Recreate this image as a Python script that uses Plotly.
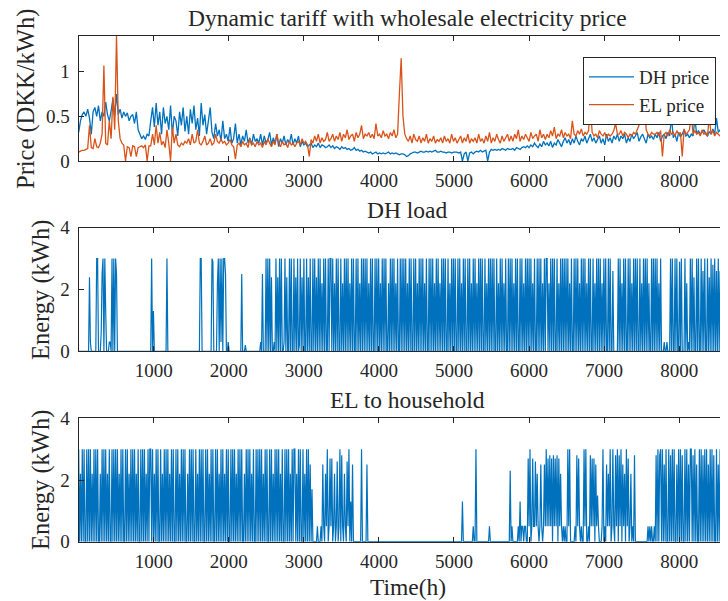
import plotly.graph_objects as go

# prices: one value per 24 h; loads: one value per 12 h
PRICE_STEP_H = 24
LOAD_STEP_H = 12

DH_PRICE = [
    0.32, 0.45, 0.52, 0.55, 0.5, 0.58, 0.48, 0.3, 0.55, 0.6, 0.5, 0.62, 0.45, 0.55, 0.5, 0.66, 0.52, 0.45, 0.56, 0.7,
    0.5, 0.75, 0.52, 0.58, 0.48, 0.55, 0.5, 0.54, 0.45, 0.5, 0.52, 0.42, 0.55, 0.35, 0.3, 0.25, 0.28, 0.24, 0.3, 0.28,
    0.45, 0.6, 0.38, 0.65, 0.4, 0.55, 0.3, 0.6, 0.42, 0.5, 0.35, 0.62, 0.3, 0.5, 0.45, 0.28, 0.55, 0.4, 0.6, 0.33,
    0.5, 0.3, 0.58, 0.42, 0.62, 0.35, 0.48, 0.28, 0.65, 0.4, 0.52, 0.3, 0.45, 0.6, 0.32, 0.25, 0.42, 0.28, 0.35, 0.22,
    0.45, 0.25, 0.3, 0.22, 0.38, 0.2, 0.25, 0.42, 0.2, 0.3, 0.18, 0.28, 0.22, 0.35, 0.2, 0.26, 0.18, 0.3, 0.22, 0.25,
    0.2, 0.3, 0.18, 0.28, 0.2, 0.24, 0.32, 0.18, 0.26, 0.2, 0.3, 0.16, 0.25, 0.2, 0.28, 0.18, 0.24, 0.2, 0.3, 0.18,
    0.25, 0.2, 0.28, 0.16, 0.22, 0.18, 0.2, 0.16, 0.18, 0.2, 0.15, 0.18, 0.16, 0.2, 0.15, 0.18, 0.17, 0.15, 0.16, 0.18,
    0.15, 0.17, 0.14, 0.16, 0.15, 0.13, 0.16, 0.14, 0.15, 0.13, 0.14, 0.12, 0.13, 0.15, 0.12, 0.13, 0.11, 0.12, 0.1, 0.11,
    0.1, 0.09, 0.1, 0.08, 0.09, 0.1, 0.08, 0.09, 0.08, 0.09, 0.08, 0.09, 0.1, 0.08, 0.09, 0.08, 0.09, 0.08, 0.07, 0.08,
    0.08, 0.07, 0.05, 0.06, 0.08, 0.09, 0.1, 0.1, 0.09, 0.1, 0.11, 0.1, 0.1, 0.11, 0.1, 0.11, 0.1, 0.11, 0.12, 0.1,
    0.1, 0.11, 0.1, 0.1, 0.09, 0.1, 0.1, 0.09, 0.1, 0.1, 0.1, 0.09, 0.1, 0.0, 0.08, 0.1, 0.0, 0.09, 0.1, 0.08,
    0.1, 0.11, 0.1, 0.12, 0.1, 0.11, 0.12, 0.0, 0.1, 0.13, 0.12, 0.13, 0.12, 0.13, 0.12, 0.14, 0.13, 0.12, 0.14, 0.13,
    0.13, 0.14, 0.12, 0.15, 0.14, 0.13, 0.15, 0.16, 0.15, 0.17, 0.15, 0.18, 0.16, 0.2, 0.17, 0.15, 0.19, 0.16, 0.22, 0.18,
    0.2, 0.17, 0.22, 0.15, 0.2, 0.18, 0.24, 0.2, 0.16, 0.22, 0.26, 0.2, 0.24, 0.18, 0.25, 0.2, 0.28, 0.22, 0.18, 0.25,
    0.22, 0.28, 0.2, 0.25, 0.3, 0.22, 0.26, 0.2, 0.24, 0.28, 0.2, 0.25, 0.18, 0.3, 0.22, 0.26, 0.2, 0.28, 0.24, 0.3,
    0.22, 0.28, 0.25, 0.3, 0.2, 0.26, 0.22, 0.3, 0.25, 0.28, 0.32, 0.22, 0.27, 0.3, 0.25, 0.2, 0.3, 0.26, 0.28, 0.24,
    0.3, 0.26, 0.32, 0.22, 0.28, 0.3, 0.25, 0.32, 0.28, 0.5, 0.26, 0.3, 0.22, 0.32, 0.27, 0.3, 0.35, 0.28, 0.3, 0.26,
    0.3, 0.28, 0.48, 0.3, 0.34, 0.3, 0.32, 0.35, 0.3, 0.28, 0.33, 0.3, 0.36, 0.3, 0.48, 0.32, 0.35, 0.38, 0.33, 0.4,
    0.36, 0.4, 0.35, 0.38, 0.34,
]

EL_PRICE = [
    0.1, 0.11, 0.12, 0.12, 0.13, 0.14, 0.4, 0.15, 0.14, 0.25, 0.16, 0.15, 0.2, 0.3, 1.07, 0.2, 0.18, 0.45, 0.25, 0.72,
    0.35, 1.4, 0.45, 0.25, 0.2, 0.18, 0.0, 0.16, 0.15, 0.05, 0.17, 0.16, 0.05, 0.15, 0.16, 0.17, 0.15, 0.18, 0.0, 0.17,
    0.17, 0.3, 0.18, 0.4, 0.2, 0.32, 0.18, 0.22, 0.15, 0.35, 0.2, 0.0, 0.38, 0.2, 0.3, 0.18, 0.16, 0.2, 0.18, 0.22,
    0.2, 0.25, 0.18, 0.3, 0.2, 0.22, 0.35, 0.2, 0.18, 0.22, 0.28, 0.18, 0.2, 0.25, 0.18, 0.2, 0.3, 0.22, 0.2, 0.25,
    0.2, 0.22, 0.18, 0.2, 0.24, 0.18, 0.16, 0.02, 0.18, 0.2, 0.16, 0.22, 0.18, 0.2, 0.15, 0.25, 0.18, 0.2, 0.16, 0.22,
    0.18, 0.2, 0.15, 0.22, 0.18, 0.25, 0.2, 0.16, 0.22, 0.18, 0.3, 0.2, 0.16, 0.22, 0.18, 0.2, 0.15, 0.22, 0.18, 0.2,
    0.16, 0.2, 0.22, 0.18, 0.25, 0.2, 0.22, 0.18, 0.05, 0.24, 0.2, 0.28, 0.22, 0.3, 0.2, 0.26, 0.22, 0.24, 0.32, 0.22,
    0.25, 0.3, 0.22, 0.28, 0.24, 0.32, 0.22, 0.3, 0.26, 0.35, 0.24, 0.28, 0.3, 0.22, 0.32, 0.26, 0.3, 0.4, 0.25, 0.3,
    0.28, 0.32, 0.26, 0.3, 0.25, 0.42, 0.28, 0.3, 0.26, 0.34, 0.28, 0.3, 0.25, 0.32, 0.28, 0.35, 0.26, 0.3, 0.75, 1.15,
    0.5, 0.3, 0.25, 0.22, 0.28, 0.2, 0.3, 0.24, 0.22, 0.28, 0.2, 0.26, 0.22, 0.3, 0.2, 0.25, 0.22, 0.28, 0.2, 0.24,
    0.22, 0.26, 0.2, 0.28, 0.22, 0.25, 0.2, 0.3, 0.22, 0.26, 0.2, 0.24, 0.28, 0.2, 0.26, 0.22, 0.3, 0.2, 0.25, 0.22,
    0.26, 0.2, 0.3, 0.22, 0.25, 0.2, 0.28, 0.22, 0.32, 0.2, 0.26, 0.22, 0.3, 0.24, 0.2, 0.28, 0.22, 0.26, 0.3, 0.22,
    0.28, 0.22, 0.3, 0.25, 0.35, 0.22, 0.28, 0.24, 0.3, 0.26, 0.22, 0.32, 0.25, 0.28, 0.3, 0.22, 0.35, 0.26, 0.3, 0.24,
    0.3, 0.26, 0.34, 0.28, 0.38, 0.25, 0.3, 0.28, 0.35, 0.26, 0.32, 0.28, 0.3, 0.25, 0.45, 0.3, 0.28, 0.34, 0.3, 0.36,
    0.28, 0.32, 0.3, 0.34, 0.61, 0.32, 0.28, 0.3, 0.26, 0.34, 0.3, 0.28, 0.32, 0.26, 0.3, 0.28, 0.3, 0.34, 0.42, 0.3,
    0.3, 0.34, 0.28, 0.32, 0.3, 0.26, 0.3, 0.28, 0.32, 0.3, 0.35, 0.4, 0.75, 0.5, 0.65, 0.35, 0.3, 0.28, 0.32, 0.3,
    0.3, 0.32, 0.28, 0.34, 0.05, 0.3, 0.32, 0.28, 0.35, 0.3, 0.32, 0.28, 0.34, 0.3, 0.32, 0.05, 0.36, 0.3, 0.32, 0.35,
    0.52, 0.3, 0.34, 0.3, 0.32, 0.28, 0.35, 0.3, 0.32, 0.28, 0.5, 0.3, 0.34, 0.28, 0.32, 0.3, 0.28, 0.25, 0.2, 0.1,
    0.0, 0.05, 0.1, 0.08, 0.12,
]

# one row = 480 h (40 half-day samples)
DH_LOAD = [
    0, 0, 0, 0, 0, 0, 0, 0, 0, 0, 0, 0, 2.4, 0.3, 0, 0, 0, 0, 0, 0,
    3, 3, 0, 0, 0, 0.6, 2.5, 3, 0, 3, 1.3, 0, 0, 0, 0.3, 0.3, 0, 3, 0, 3,
    0, 3, 2.5, 0, 0, 0, 0, 0, 0, 0, 0, 0, 0, 0, 0, 0, 0, 0, 0, 0,
    0, 0, 0, 0, 0, 0, 0, 0, 0, 0, 0, 0, 0, 0, 0, 0, 0, 0, 0, 0,
    0, 3, 0, 1.3, 0, 0, 0, 0, 0, 0, 0, 0, 0, 0, 0, 0, 0, 0, 3, 0,
    0, 0, 0, 0, 0, 0, 0, 0, 0, 0, 0, 0, 0, 0, 0, 0, 0, 0, 0, 0,
    0, 0, 0, 0, 0, 0, 0, 0, 0, 0, 0, 0, 0, 0, 0, 3, 3, 0, 0, 0,
    0, 0, 0, 0, 0, 0, 0, 0, 3, 2.9, 0, 0, 0, 0, 2.2, 3, 0, 3, 0.3, 3,
    0, 3, 3, 2.5, 0, 0, 0.3, 0, 0, 0, 0, 0, 0, 0, 0, 0, 0, 0, 0, 0,
    0, 2.5, 0, 0, 0, 0.2, 0, 0, 0, 0, 0, 0, 0, 0, 0, 0, 0, 0, 0, 0,
    0, 0, 0.3, 0, 2.5, 0, 0, 0, 3, 0, 3, 0, 3, 0, 2.4, 0, 0, 0.3, 0, 3,
    0, 2.4, 0, 3, 0, 3, 0, 0, 0.3, 3, 0, 2.4, 0, 0, 3, 0, 3, 0, 0, 3,
    0, 2.4, 0, 3, 0, 0.2, 3, 0, 2.4, 0, 3, 0, 0, 3, 0, 2.4, 0, 3, 0, 0,
    3, 0, 3, 0, 2.4, 0, 3, 0, 3, 0, 2.2, 0, 3, 0, 3, 0, 0, 3, 0, 3,
    3, 0, 3, 0, 2.2, 0, 3, 0, 3, 0, 0, 3, 0, 2.2, 0, 3, 0, 3, 0, 3,
    0, 2.2, 0, 3, 0, 3, 0, 0, 3, 0, 3, 0, 2.2, 0, 3, 0, 3, 0, 3, 0,
    3, 0, 2.2, 0, 3, 0, 3, 0, 0, 3, 0, 3, 0, 3, 0, 2.2, 0, 3, 0, 3,
    0, 3, 0, 0, 2.2, 0, 3, 0, 3, 0, 3, 0, 2.2, 0, 3, 0, 0, 3, 0, 3,
    0, 3, 0, 3, 0, 2.2, 0, 3, 0, 3, 0, 0, 3, 0, 3, 0, 2.2, 0, 3, 0,
    3, 0, 3, 0, 2.2, 0, 3, 0, 0, 3, 0, 3, 0, 3, 0, 2.2, 0, 3, 0, 3,
    0, 2.2, 0, 3, 0, 3, 0, 3, 0, 0, 3, 0, 2.2, 0, 3, 0, 3, 0, 3, 0,
    0, 3, 0, 3, 0, 2.2, 0, 3, 0, 3, 0, 0, 3, 0, 3, 0, 2.2, 0, 3, 0,
    3, 0, 2.2, 0, 3, 0, 3, 0, 3, 0, 0, 3, 0, 2.2, 0, 3, 0, 3, 0, 3,
    0, 3, 0, 0, 3, 0, 2.2, 0, 3, 0, 3, 0, 2.2, 0, 3, 0, 0, 3, 0, 3,
    0, 3, 0, 2.2, 0, 3, 0, 3, 0, 0, 3, 0, 3, 0, 2.2, 0, 3, 0, 3, 0,
    3, 0, 3, 0, 2.2, 0, 3, 0, 0, 3, 0, 3, 0, 3, 0, 2.2, 0, 3, 0, 3,
    3, 0, 2.2, 0, 3, 0, 3, 0, 3, 0, 0, 3, 0, 2.2, 0, 3, 0, 3, 0, 3,
    0, 3, 0, 3, 0, 2.2, 0, 3, 0, 0, 3, 0, 3, 0, 3, 0, 2.2, 0, 3, 0,
    3, 0, 3, 0, 2.2, 0, 3, 0, 3, 0, 0, 3, 0, 2.2, 0, 3, 0, 3, 0, 3,
    0, 2.2, 0, 3, 0, 3, 0, 0, 3, 0, 3, 0, 0, 2.6, 0, 0, 0, 0, 0, 3,
    0, 3, 0, 2.2, 0, 3, 0, 3, 0, 0, 3, 0, 3, 0, 2.2, 0, 3, 0, 3, 0,
    3, 0, 0, 3, 0, 2.2, 0, 3, 0, 3, 0, 3, 0, 2.2, 0, 0, 3, 0, 3, 0,
    3, 0, 3, 0, 2.2, 0, 3, 0, 0, 0, 0.3, 0, 0, 0.3, 0, 0, 0, 3, 0, 3,
    0, 0, 3, 0, 3, 0, 0, 2.9, 0, 3, 0, 0, 0, 3, 0, 2.2, 0, 0.3, 0, 3,
    0, 3, 0, 2.4, 0, 0, 3, 0, 3, 0, 0, 3, 0, 2.6, 0, 3, 0, 0, 3, 0,
    2.4, 0, 3, 0, 2.8, 0, 3, 0, 2.6, 0, 3, 0, 2.6, 0, 0.3, 0, 0, 0, 0, 0,
    0, 0, 0, 0, 0, 0, 0, 0, 0, 0,
]

EL_LOAD = [
    3, 0, 2.2, 0, 3, 0, 3, 0, 0, 3, 0, 3, 0, 3, 0, 2.2, 0, 3, 0, 3,
    0, 3, 0, 0, 2.2, 0, 3, 0, 3, 0, 3, 0, 2.2, 0, 3, 0, 0, 3, 0, 3,
    0, 3, 0, 3, 0, 2.2, 0, 3, 0, 3, 0, 0, 3, 0, 3, 0, 2.2, 0, 3, 0,
    3, 0, 3, 0, 2.2, 0, 3, 0, 0, 3, 0, 3, 0, 3, 0, 2.2, 0, 3, 0, 3,
    3, 0, 3, 0, 2.2, 0, 3, 0, 3, 0, 0, 3, 0, 2.2, 0, 3, 0, 3, 0, 3,
    0, 2.2, 0, 3, 0, 3, 0, 0, 3, 0, 3, 0, 2.2, 0, 3, 0, 3, 0, 3, 0,
    0, 2.2, 0, 3, 0, 3, 0, 3, 0, 0, 3, 0, 2.2, 0, 3, 0, 3, 0, 3, 0,
    0, 3, 0, 3, 0, 2.2, 0, 3, 0, 3, 0, 0, 3, 0, 3, 0, 2.2, 0, 3, 0,
    3, 0, 2.2, 0, 3, 0, 3, 0, 0, 3, 0, 3, 0, 3, 0, 2.2, 0, 3, 0, 3,
    0, 3, 0, 0, 2.2, 0, 3, 0, 3, 0, 3, 0, 2.2, 0, 3, 0, 0, 3, 0, 3,
    0, 3, 0, 3, 0, 2.2, 0, 3, 0, 3, 0, 0, 3, 0, 3, 0, 2.2, 0, 3, 0,
    3, 0, 3, 0, 2.2, 0, 3, 0, 0, 3, 0, 3, 0, 3, 0, 2.2, 0, 3, 0, 3,
    3, 0, 2.2, 0, 3, 0, 3, 0, 0, 3, 0, 2.2, 0, 3, 0, 3, 0, 2.5, 0, 1.7,
    0, 0, 0, 0, 0, 0.5, 0, 0, 0, 0.5, 0, 2.5, 0.5, 0, 2.2, 0.5, 3, 0, 0.5, 2.7,
    0.5, 2.7, 0, 0.5, 2.2, 0, 0.5, 2.6, 0, 0.5, 3, 0, 2.8, 0.5, 0, 2.2, 0.5, 0, 2.6, 0.5,
    3, 0, 1.3, 0, 2.5, 0, 0, 0, 0, 0, 0, 0, 0, 0, 3, 0, 0, 0, 0, 0,
    2.5, 0, 0, 0, 0, 0, 0, 0, 0, 0, 0, 0, 0, 0, 0, 0, 0, 0, 0, 0,
    0, 0, 0, 0, 0, 0, 0, 0, 0, 0, 0, 0, 0, 0, 0, 0, 0, 0, 0, 0,
    0, 0, 0, 0, 0, 0, 0, 0, 0, 0, 0, 0, 0, 0, 0, 0, 0, 0, 0, 0,
    0, 0, 0, 0, 0, 0, 0, 0, 0, 0, 0, 0, 0, 0, 0, 0, 0, 0, 0, 0,
    0, 0, 0, 0, 0, 0, 0, 0, 0, 0, 0, 0, 0, 0, 0, 0, 0, 0, 0, 0,
    0, 0, 0, 0, 0, 0, 1.3, 0, 0, 0, 0, 0, 0, 0, 0, 0, 0, 0, 0.5, 0,
    0, 3, 0, 0, 0, 0, 0, 0, 0, 0, 0, 0, 0, 0, 0, 0, 0.5, 0, 0, 0,
    0, 0, 0, 0, 0, 0, 0, 0, 0, 0, 0, 0, 0, 0, 0, 0, 0, 0, 0, 2.3,
    0, 0.5, 0, 0, 0, 0, 0, 0, 0.5, 0, 1.3, 0, 0.5, 0.5, 0, 0.5, 0.5, 0, 0, 2.7,
    0.5, 3, 0, 0.5, 2.7, 0.5, 0.5, 2.6, 0.5, 2.2, 0.5, 0, 0.5, 2.5, 0.5, 0, 0.5, 2.5, 0.5, 3,
    0.5, 2.7, 0.5, 2.8, 0.5, 2.7, 0, 2.8, 0.5, 2.7, 0.5, 2.8, 0, 2.7, 0.5, 2.2, 0.5, 0, 0.5, 0,
    0.5, 0, 0, 3, 0.5, 3, 0, 0, 0, 0, 0, 0.5, 0, 2.8, 0.5, 2.7, 0.5, 0, 0.5, 0,
    0, 3, 0.5, 3, 0, 0, 0.5, 0, 2.8, 0.5, 2.7, 0.5, 2.7, 0, 2.5, 0.5, 1.5, 0.5, 0, 0,
    0, 0.5, 3, 0, 0.5, 0, 2.5, 0.5, 2.2, 0.5, 3, 0, 0.5, 3, 0.5, 0, 2.8, 0.5, 3, 0,
    2.8, 0.5, 3, 0, 2.5, 0.5, 2.2, 0, 3, 0.5, 2.7, 0, 0.5, 2.2, 0, 0.5, 0, 2.8, 0, 0,
    0, 0, 0, 0, 0, 0, 0, 0, 0, 0, 0, 0, 0.5, 0, 0.5, 0, 0.5, 0, 0, 0.5,
    0, 2.8, 0, 3, 0, 2.8, 3, 0, 3, 0, 2.5, 0, 3, 0, 0, 3, 0, 2.8, 0, 3,
    0, 3, 0, 0, 2.5, 0, 3, 0, 3, 0, 2.8, 0, 0, 3, 0, 3, 0, 2.5, 0, 3,
    3, 0, 2.8, 0, 3, 0, 2.5, 0, 0, 3, 0, 3, 0, 2.8, 0, 3, 0, 3, 0, 2.5,
    0, 3, 0, 3, 0, 2.8, 0, 0, 3, 0, 2.5, 0, 3, 0, 3, 0, 2.8, 0, 3, 0,
    3, 0, 2.8, 0, 3, 0, 2.5, 0, 3, 0,
]

X_TICKS = [1000, 2000, 3000, 4000, 5000, 6000, 7000, 8000]

BLUE = "#0072BD"
ORANGE = "#D95319"
INK = "#262626"
FONT = "Liberation Serif"

W, H = 728, 601
# the page body adds an 8 px margin, so all pixel positions are taken 8 px up/left
LEFT = 70.6
BOXES = [(28, 153), (219.7, 343.3), (410.3, 533.7)]  # (top, bottom) of each axes box
X_RANGE = [0, 8757]


def hours(series, step):
    return [1 + step * i for i in range(len(series))]


def line(series, step, color, name, xa, ya, width, legend=False):
    return go.Scatter(
        x=hours(series, step), y=series, mode="lines", name=name,
        line=dict(color=color, width=width, simplify=False),
        xaxis=xa, yaxis=ya, showlegend=legend, hoverinfo="skip",
    )


fig = go.Figure()
fig.add_trace(line(DH_PRICE, PRICE_STEP_H, BLUE, "DH price", "x", "y", 1.3, True))
fig.add_trace(line(EL_PRICE, PRICE_STEP_H, ORANGE, "EL price", "x", "y", 1.3, True))
fig.add_trace(line(DH_LOAD, LOAD_STEP_H, BLUE, "DH load", "x2", "y2", 1.2))
fig.add_trace(line(EL_LOAD, LOAD_STEP_H, BLUE, "EL to household", "x3", "y3", 1.2))

tick_font = dict(family=FONT, size=19, color=INK)
axis_common = dict(showline=True, linecolor=INK, linewidth=1.2, ticks="inside",
                   ticklen=5, tickcolor=INK, showgrid=False, zeroline=False,
                   tickfont=tick_font, automargin=False)

layout = dict(
    template="none",
    width=W, height=H, paper_bgcolor="white", plot_bgcolor="white",
    margin=dict(l=0, r=0, t=0, b=0),
    font=dict(family=FONT, color=INK),
    legend=dict(x=708 / W, xanchor="right", y=1 - 49 / H, yanchor="top",
                bgcolor="white", bordercolor=INK, borderwidth=1, itemwidth=45,
                tracegroupgap=0, font=dict(family=FONT, size=19, color=INK)),
)

y_ranges = [[0, 1.4], [0, 4], [0, 4]]
y_ticks = [([0, 0.5, 1], ["0", "0.5", "1"]), ([0, 2, 4], ["0", "2", "4"]), ([0, 2, 4], ["0", "2", "4"])]
for i, (top, bottom) in enumerate(BOXES):
    sfx = "" if i == 0 else str(i + 1)
    layout["xaxis" + sfx] = dict(
        axis_common, domain=[LEFT / W, 1], range=X_RANGE, anchor="y" + sfx,
        tickvals=X_TICKS, mirror="ticks", ticklabelstandoff=2,
    )
    layout["yaxis" + sfx] = dict(
        axis_common, domain=[1 - bottom / H, 1 - top / H], range=y_ranges[i],
        anchor="x" + sfx, tickvals=y_ticks[i][0], ticktext=y_ticks[i][1],
        ticklabelstandoff=4,
    )
fig.update_layout(**layout)

CX = 399.5 / W
texts = [
    ("Dynamic tariff with wholesale electricity price", CX, 10.5, 0, 23.5),
    ("DH load", CX, 202, 0, 23.5),
    ("EL to household", CX, 392, 0, 23.5),
    ("Time(h)", CX, 579, 0, 23.5),
    ("Price (DKK/kWh)", 18 / W, 91, -90, 24.5),
    ("Energy (kWh)", 33 / W, 282, -90, 24.5),
    ("Energy (kWh)", 33 / W, 472, -90, 24.5),
]
for txt, x, y, ang, size in texts:
    fig.add_annotation(text=txt, x=x, y=1 - y / H, xref="paper", yref="paper",
                       showarrow=False, textangle=ang, xanchor="center", yanchor="middle",
                       font=dict(family=FONT, size=size, color=INK))

fig.write_html("out.html")
